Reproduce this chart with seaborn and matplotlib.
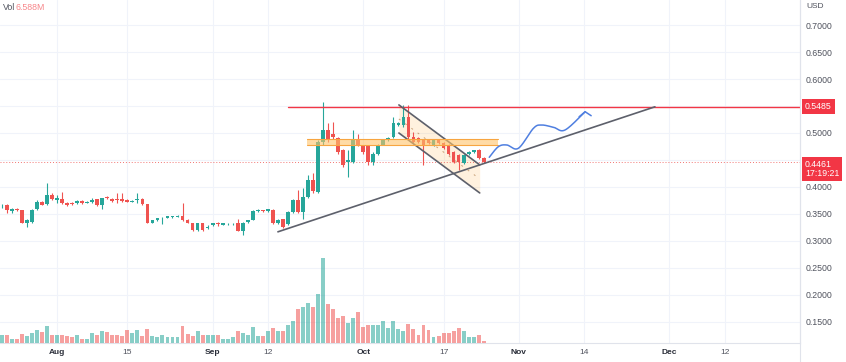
import matplotlib
matplotlib.use('Agg')
import matplotlib.pyplot as plt
import matplotlib.dates as mdates
from matplotlib.lines import Line2D
import numpy as np
import pandas as pd
import seaborn as sns

# daily candles, first one on 21 Jul
start = '2022-07-21'
opens = [0.366, 0.367, 0.355, 0.360, 0.357, 0.334, 0.336, 0.359, 0.373, 0.368,
         0.386, 0.376, 0.378, 0.371, 0.371, 0.370, 0.374, 0.371, 0.372, 0.377,
         0.366, 0.381, 0.378, 0.378, 0.377, 0.376, 0.373, 0.376, 0.378, 0.368,
         0.334, 0.338, 0.342, 0.343, 0.345, 0.345, 0.346, 0.338, 0.333, 0.320,
         0.333, 0.324, 0.330, 0.333, 0.330, 0.331, 0.331, 0.333, 0.319, 0.335,
         0.339, 0.356, 0.357, 0.355, 0.358, 0.333, 0.340, 0.331, 0.354, 0.375,
         0.354, 0.382, 0.413, 0.391, 0.484, 0.506, 0.499, 0.490, 0.468, 0.447,
         0.447, 0.487, 0.475, 0.475, 0.447, 0.462, 0.478, 0.487, 0.493, 0.515,
         0.515, 0.530, 0.493, 0.490, 0.487, 0.487, 0.478, 0.487, 0.481, 0.478,
         0.465, 0.459, 0.444, 0.462, 0.465, 0.468, 0.453]
highs = [0.368, 0.369, 0.361, 0.362, 0.358, 0.340, 0.359, 0.376, 0.374, 0.407,
         0.388, 0.385, 0.391, 0.372, 0.373, 0.375, 0.375, 0.374, 0.380, 0.378,
         0.380, 0.383, 0.380, 0.388, 0.389, 0.377, 0.376, 0.389, 0.380, 0.369,
         0.339, 0.343, 0.344, 0.347, 0.347, 0.348, 0.370, 0.340, 0.334, 0.334,
         0.334, 0.330, 0.334, 0.335, 0.334, 0.333, 0.333, 0.340, 0.335, 0.339,
         0.358, 0.359, 0.358, 0.360, 0.359, 0.340, 0.341, 0.355, 0.377, 0.395,
         0.399, 0.422, 0.426, 0.487, 0.558, 0.518, 0.521, 0.492, 0.470, 0.468,
         0.506, 0.499, 0.478, 0.476, 0.464, 0.480, 0.489, 0.493, 0.530, 0.520,
         0.552, 0.552, 0.502, 0.492, 0.489, 0.489, 0.489, 0.489, 0.483, 0.479,
         0.467, 0.461, 0.461, 0.467, 0.469, 0.470, 0.455]
lows = [0.362, 0.351, 0.352, 0.356, 0.333, 0.325, 0.334, 0.357, 0.366, 0.366,
        0.376, 0.370, 0.369, 0.365, 0.366, 0.369, 0.369, 0.370, 0.371, 0.365,
        0.360, 0.378, 0.372, 0.370, 0.373, 0.372, 0.372, 0.370, 0.367, 0.333,
        0.333, 0.337, 0.331, 0.342, 0.343, 0.344, 0.337, 0.333, 0.319, 0.319,
        0.319, 0.323, 0.328, 0.327, 0.329, 0.330, 0.330, 0.318, 0.311, 0.334,
        0.338, 0.354, 0.354, 0.354, 0.332, 0.331, 0.324, 0.330, 0.352, 0.352,
        0.341, 0.380, 0.389, 0.389, 0.478, 0.484, 0.489, 0.461, 0.437, 0.419,
        0.445, 0.475, 0.462, 0.440, 0.441, 0.460, 0.477, 0.485, 0.491, 0.513,
        0.512, 0.489, 0.481, 0.482, 0.441, 0.480, 0.476, 0.479, 0.470, 0.460,
        0.445, 0.432, 0.442, 0.460, 0.463, 0.451, 0.444]
closes = [0.367, 0.357, 0.359, 0.357, 0.334, 0.338, 0.357, 0.373, 0.367, 0.385,
          0.377, 0.379, 0.370, 0.367, 0.368, 0.374, 0.370, 0.372, 0.376, 0.366,
          0.379, 0.379, 0.374, 0.376, 0.374, 0.373, 0.374, 0.378, 0.368, 0.334,
          0.338, 0.342, 0.3425, 0.346, 0.346, 0.347, 0.338, 0.334, 0.320, 0.333,
          0.320, 0.325, 0.333, 0.332, 0.333, 0.3315, 0.332, 0.319, 0.334, 0.338,
          0.356, 0.357, 0.355, 0.359, 0.333, 0.339, 0.325, 0.354, 0.375, 0.354,
          0.382, 0.413, 0.392, 0.484, 0.506, 0.487, 0.493, 0.465, 0.441, 0.450,
          0.487, 0.478, 0.465, 0.447, 0.462, 0.478, 0.487, 0.490, 0.518, 0.518,
          0.530, 0.493, 0.484, 0.484, 0.478, 0.482, 0.487, 0.481, 0.472, 0.462,
          0.447, 0.447, 0.459, 0.465, 0.468, 0.453, 0.4461]
# volume, millions
volumes = [25, 25, 13, 13, 27, 21, 29, 39, 33, 51, 25, 23, 23, 21, 17, 25, 13, 13,
           31, 23, 35, 33, 25, 23, 21, 39, 29, 39, 21, 43, 21, 19, 23, 17, 19, 19,
           51, 27, 21, 35, 23, 23, 23, 25, 13, 11, 19, 35, 29, 25, 47, 21, 21, 35,
           45, 35, 37, 53, 65, 103, 107, 119, 107, 149, 257, 117, 101, 75, 81, 59,
           75, 93, 47, 53, 53, 55, 65, 45, 67, 43, 35, 57, 43, 25, 55, 39, 19, 21,
           31, 31, 35, 45, 35, 19, 19, 23, 6.588]

price_ticks = [0.15, 0.20, 0.25, 0.30, 0.35, 0.40, 0.45, 0.50, 0.55, 0.60, 0.65, 0.70]
tick_dates = ['2022-08-01', '2022-08-15', '2022-09-01', '2022-09-12', '2022-10-01',
              '2022-10-17', '2022-11-01', '2022-11-14', '2022-12-01', '2022-12-12']
tick_labels = ['Aug', '15', 'Sep', '12', 'Oct', '17', 'Nov', '14', 'Dec', '12']
months = {'Aug', 'Sep', 'Oct', 'Nov', 'Dec'}

resistance = 0.5485
last_price = 0.4461
countdown = '17:19:21'
last_volume = '6.588M'

# drawings, as (days after start, price)
resistance_from = 57.0
support_line = [(55.0, 0.317), (130.1, 0.5485)]
channel_upper = [(79.1, 0.552), (95.2, 0.441)]
channel_lower = [(79.1, 0.500), (95.2, 0.389)]
zone = [(60.8, 0.477), (98.8, 0.488)]
wave = [(97.1, 0.455), (98.9, 0.4746), (100.6, 0.4778), (102.9, 0.4717), (105.9, 0.5087),
        (107.5, 0.5148), (109.9, 0.5106), (112.2, 0.5056), (116.2, 0.5394)]
wave_head = [(115.0, 0.530), (116.2, 0.5394), (117.4, 0.532)]

UP = '#26a69a'
DOWN = '#ef5350'


def smooth(pts, n=25):
    # catmull-rom through the wave points
    p = np.asarray(pts, dtype=float)
    p = np.vstack([p[0], p, p[-1]])
    t = np.linspace(0, 1, n)[:, None]
    segs = []
    for k in range(1, len(p) - 2):
        p0, p1, p2, p3 = p[k - 1], p[k], p[k + 1], p[k + 2]
        segs.append(0.5 * (2 * p1 + (-p0 + p2) * t
                           + (2 * p0 - 5 * p1 + 4 * p2 - p3) * t ** 2
                           + (-p0 + 3 * p1 - 3 * p2 + p3) * t ** 3))
    return np.vstack(segs)


def main():
    sns.set_theme(style='white')
    plt.rcParams['font.family'] = ['Liberation Sans', 'DejaVu Sans']

    x0 = mdates.date2num(pd.Timestamp(start))
    df = pd.DataFrame({'open': opens, 'high': highs, 'low': lows,
                       'close': closes, 'volume': volumes})
    df['x'] = x0 + np.arange(len(df))
    df['up'] = df['close'] >= df['open']
    colors = np.where(df['up'], UP, DOWN)

    fig = plt.figure(figsize=(8.46, 3.62), dpi=100)
    ax = fig.add_axes([0, 19 / 362, 800 / 846, 343 / 362])
    axv = ax.twinx()

    # grid
    for p in price_ticks:
        ax.axhline(p, color='#f0f3fa', lw=0.8, zorder=0)
    xt = [mdates.date2num(pd.Timestamp(d)) for d in tick_dates]
    for x in xt:
        ax.axvline(x, color='#f0f3fa', lw=0.8, zorder=0)

    # volume
    axv.bar(df['x'], df['volume'], width=0.78, color=colors, alpha=0.55, lw=0)
    axv.set_ylim(0, 1033)
    axv.set_yticks([])
    for s in axv.spines.values():
        s.set_visible(False)

    # candles
    ax.vlines(df['x'], df['low'], df['high'], colors=colors, lw=0.8, zorder=3)
    body = (df['close'] - df['open']).abs().clip(lower=0.0009)
    ax.bar(df['x'], body, bottom=df[['open', 'close']].min(axis=1), width=0.74,
           color=colors, lw=0, zorder=4)

    # last price line
    ax.axhline(last_price, color=DOWN, lw=0.7, ls=(0, (1, 2)), alpha=0.8, zorder=2)

    # resistance ray
    ax.plot([x0 + resistance_from, x0 + 200], [resistance] * 2, color='#f23645', lw=1.0, zorder=5)

    # support trend line
    sx, sy = zip(*support_line)
    ax.plot(x0 + np.array(sx), sy, color='#5d606b', lw=1.2, zorder=5)

    # falling channel
    ux, uy = zip(*channel_upper)
    lx, ly = zip(*channel_lower)
    ux = x0 + np.array(ux)
    lx = x0 + np.array(lx)
    ax.fill_between(ux, uy, ly, color='#ffa726', alpha=0.15, lw=0, zorder=1)
    ax.plot(ux, uy, color='#5d606b', lw=1.2, zorder=5)
    ax.plot(lx, ly, color='#5d606b', lw=1.2, zorder=5)
    ax.plot(ux, (np.array(uy) + np.array(ly)) / 2, color='#c8a27a', lw=0.7,
            ls=(0, (2, 6)), zorder=5)

    # horizontal zone
    (zx1, zy1), (zx2, zy2) = zone
    ax.fill_between([x0 + zx1, x0 + zx2], zy1, zy2, color='#ffc46b', alpha=0.6,
                    lw=0, zorder=6)
    ax.plot([x0 + zx1, x0 + zx2], [zy1, zy1], color='#f7a541', lw=0.8, zorder=6)
    ax.plot([x0 + zx1, x0 + zx2], [zy2, zy2], color='#f7a541', lw=0.8, zorder=6)

    # projected path
    w = smooth(wave)
    ax.plot(x0 + w[:, 0], w[:, 1], color='#4f7fe0', lw=1.1, zorder=7)
    hx, hy = zip(*wave_head)
    ax.plot(x0 + np.array(hx), hy, color='#4f7fe0', lw=1.1, zorder=7)

    # axes; scale labels hidden where the price boxes cover them
    ax.set_xlim(x0 - 0.36, x0 + 159.0)
    ax.set_ylim(0.1111, 0.7463)
    ax.yaxis.tick_right()
    ax.set_yticks(price_ticks)
    covered = [resistance, last_price]
    ax.set_yticklabels(['' if min(abs(p - c) for c in covered) < 0.01 else '%.4f' % p
                        for p in price_ticks])
    ax.set_xticks(xt)
    ax.set_xticklabels(tick_labels)
    for lab in ax.get_xticklabels():
        if lab.get_text() in months:
            lab.set_fontweight('bold')
            lab.set_color('#2a2e39')
        else:
            lab.set_color('#50535e')
    ax.tick_params(axis='x', length=0, pad=4.5, labelsize=6)
    ax.tick_params(axis='y', length=0, pad=3.8, labelsize=6.3, labelcolor='#50535e')
    for side in ['top', 'left']:
        ax.spines[side].set_visible(False)
    ax.spines['bottom'].set_color('#e0e3eb')
    ax.spines['right'].set_color('#e0e3eb')
    ax.spines['bottom'].set_linewidth(0.8)
    ax.spines['right'].set_linewidth(0.8)
    fig.add_artist(Line2D([800 / 846] * 2, [0, 1], transform=fig.transFigure,
                          color='#e0e3eb', lw=0.8))

    # price labels on the scale
    ytr = ax.get_yaxis_transform()
    ax.text(1 + 5 / 800, resistance, '%.4f' % resistance, transform=ytr, ha='left',
            va='center', color='white', fontsize=6.3, clip_on=False, zorder=10,
            bbox=dict(boxstyle='square,pad=0.35', fc='#f23645', ec='none'))
    ax.text(1 + 5 / 800, last_price - 0.012, '%.4f\n%s' % (last_price, countdown),
            transform=ytr, ha='left', va='center', color='white', fontsize=6.3,
            linespacing=1.0, clip_on=False, zorder=10,
            bbox=dict(boxstyle='square,pad=0.35', fc='#f23645', ec='none'))

    fig.text(806 / 846, 1 - 7 / 362, 'USD', fontsize=6, color='#50535e', va='center')
    fig.text(3 / 846, 1 - 8 / 362, 'Vol', fontsize=6.3, color='#50535e', va='center')
    fig.text(16 / 846, 1 - 8 / 362, last_volume, fontsize=6.3, color='#f7868a', va='center')

    fig.savefig('out.png', dpi=100)
    plt.close(fig)


if __name__ == '__main__':
    main()
